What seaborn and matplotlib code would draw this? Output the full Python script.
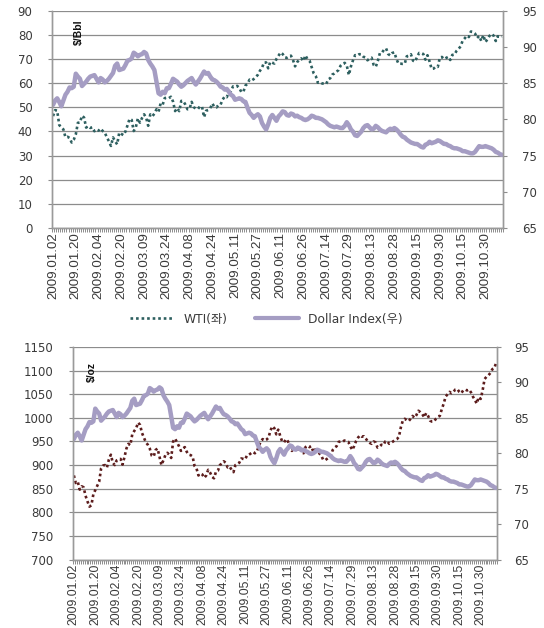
"""
WTI / gold vs. Dollar Index, 2009 daily (two stacked dual-axis panels).
"""
import numpy as np
import pandas as pd
import matplotlib
matplotlib.use('Agg')
import matplotlib.pyplot as plt
import seaborn as sns
from matplotlib.lines import Line2D

# category labels shown on the x axis (every 11th trading day)
tick_dates = ["2009.01.02", "2009.01.20", "2009.02.04", "2009.02.20", "2009.03.09",
              "2009.03.24", "2009.04.08", "2009.04.24", "2009.05.11", "2009.05.27",
              "2009.06.11", "2009.06.26", "2009.07.14", "2009.07.29", "2009.08.13",
              "2009.08.28", "2009.09.15", "2009.09.30", "2009.10.15", "2009.10.30"]
tick_step = 11

# WTI, $/Bbl (left axis, top panel)
wti = [46.34, 48.81, 48.58, 42.63, 41.70, 40.83, 37.59, 37.78, 37.28, 35.40,
       36.51, 38.74, 43.55, 43.67, 46.47, 45.73, 41.58, 42.16, 41.44, 41.68,
       40.08, 40.78, 40.32, 41.17, 40.17, 39.56, 37.55, 35.94, 33.98, 37.51,
       35.94, 34.62, 39.48, 38.94, 38.44, 39.96, 42.50, 45.22, 44.76, 40.15,
       41.65, 45.38, 43.61, 45.52, 47.07, 45.71, 42.33, 47.03, 46.25, 47.35,
       49.16, 48.14, 51.61, 51.06, 53.80, 53.98, 53.77, 54.34, 52.38, 48.41,
       49.66, 48.39, 52.64, 52.51, 51.05, 49.15, 49.38, 52.24, 50.05, 49.41,
       49.25, 50.33, 50.33, 45.88, 48.55, 48.86, 49.62, 51.55, 50.14, 49.92,
       50.97, 51.12, 53.20, 54.47, 54.16, 56.34, 56.71, 58.63, 58.50, 58.85,
       58.02, 56.34, 56.34, 59.03, 59.65, 61.45, 61.05, 61.67, 62.45, 63.45,
       65.08, 66.31, 68.58, 68.55, 66.12, 68.81, 68.44, 68.09, 70.01, 71.33,
       72.68, 72.04, 70.62, 70.47, 71.03, 71.37, 69.55, 66.93, 68.67, 69.66,
       70.25, 69.16, 71.49, 69.89, 69.31, 66.73, 64.05, 62.93, 60.14, 60.41,
       59.89, 59.69, 59.52, 61.54, 62.02, 63.56, 63.98, 64.72, 65.40, 67.21,
       68.05, 68.38, 67.23, 63.35, 66.94, 69.45, 71.58, 71.42, 71.97, 71.94,
       70.93, 70.60, 69.45, 70.16, 70.52, 67.51, 66.75, 69.19, 72.42, 72.54,
       73.89, 74.37, 72.05, 71.43, 72.49, 72.74, 69.96, 68.05, 68.05, 67.96,
       68.02, 71.10, 71.31, 71.94, 69.29, 68.86, 70.93, 72.51, 72.47, 72.04,
       69.71, 71.55, 68.97, 65.89, 66.02, 66.84, 66.71, 70.61, 70.82, 69.95,
       70.41, 70.88, 69.57, 71.69, 71.77, 73.27, 74.15, 75.18, 77.58, 78.53,
       79.61, 79.09, 81.37, 81.19, 80.50, 78.68, 79.55, 77.46, 79.87, 77.00,
       78.13, 79.60, 80.40, 79.62, 77.43, 79.43, 79.05, 79.28]

# Dollar Index (right axis, both panels)
dxy = [82.0, 82.6, 82.9, 82.4, 81.8, 82.6, 83.4, 83.8, 84.4, 84.3,
       84.5, 86.3, 85.9, 85.6, 84.6, 84.9, 85.2, 85.6, 85.9, 86.0,
       86.1, 85.6, 85.1, 85.7, 85.5, 85.1, 85.3, 85.6, 86.0, 86.4,
       87.4, 87.7, 86.8, 86.9, 87.0, 87.5, 88.1, 88.2, 88.4, 89.2,
       89.0, 88.7, 88.9, 89.0, 89.3, 89.1, 88.2, 87.7, 87.3, 86.8,
       85.2, 83.6, 83.4, 83.8, 83.6, 84.3, 84.3, 84.9, 85.6, 85.4,
       85.2, 84.8, 84.5, 84.7, 85.0, 85.3, 85.5, 85.7, 85.2, 84.8,
       85.2, 85.6, 86.1, 86.6, 86.3, 86.4, 85.9, 85.5, 85.4, 85.2,
       84.9, 84.5, 84.4, 84.1, 84.2, 83.8, 83.4, 83.2, 82.7, 82.8,
       82.9, 82.8, 82.5, 82.4, 81.6, 80.9, 80.6, 80.2, 80.5, 80.7,
       80.4, 79.5, 79.0, 78.6, 79.3, 80.2, 80.6, 80.2, 79.8, 80.4,
       80.7, 81.1, 81.0, 80.6, 80.5, 80.8, 80.7, 80.4, 80.5, 80.3,
       80.2, 80.0, 79.9, 80.0, 80.2, 80.5, 80.4, 80.2, 80.2, 80.1,
       80.0, 79.8, 79.6, 79.3, 79.1, 79.0, 78.9, 79.0, 78.9, 78.8,
       78.8, 79.1, 79.6, 79.2, 78.6, 78.3, 77.8, 77.7, 78.0, 78.3,
       78.8, 79.1, 79.2, 78.9, 78.6, 78.7, 79.1, 78.9, 78.6, 78.4,
       78.3, 78.2, 78.5, 78.7, 78.6, 78.8, 78.6, 78.3, 77.9, 77.6,
       77.5, 77.2, 77.0, 76.8, 76.7, 76.6, 76.6, 76.4, 76.2, 76.1,
       76.5, 76.6, 76.9, 76.7, 76.8, 76.9, 77.1, 77.0, 76.8, 76.6,
       76.6, 76.4, 76.3, 76.1, 76.0, 76.0, 75.9, 75.8, 75.6, 75.6,
       75.5, 75.4, 75.3, 75.3, 75.5, 75.9, 76.3, 76.2, 76.2, 76.3,
       76.2, 76.1, 76.0, 75.8, 75.5, 75.4, 75.2, 75.1]

# Gold, $/oz (left axis, bottom panel)
gold = [878, 862, 865, 848, 855, 853, 835, 823, 812, 815,
        838, 847, 856, 865, 893, 899, 900, 895, 912, 922,
        905, 900, 910, 912, 913, 901, 917, 935, 945, 942,
        965, 972, 978, 990, 985, 968, 958, 948, 943, 935,
        920, 918, 932, 935, 917, 900, 910, 921, 926, 922,
        915, 950, 956, 948, 940, 930, 935, 938, 928, 922,
        921, 918, 898, 893, 878, 882, 880, 873, 878, 890,
        884, 875, 872, 886, 888, 900, 903, 908, 905, 895,
        897, 890, 885, 900, 902, 905, 914, 913, 912, 921,
        922, 925, 928, 925, 928, 940, 950, 955, 952, 954,
        958, 973, 982, 978, 965, 975, 962, 950, 948, 955,
        950, 940, 930, 935, 934, 933, 937, 928, 925, 938,
        941, 938, 940, 928, 933, 928, 925, 921, 912, 910,
        913, 916, 920, 932, 937, 940, 949, 950, 949, 952,
        950, 949, 940, 932, 940, 951, 958, 963, 960, 961,
        956, 950, 947, 945, 950, 948, 937, 939, 943, 942,
        950, 951, 945, 947, 950, 953, 955, 960, 980, 994,
        998, 995, 993, 998, 1004, 1000, 1006, 1015, 1012, 1008,
        1001, 1010, 1004, 994, 992, 992, 998, 1002, 1004, 1018,
        1030, 1045, 1050, 1055, 1052, 1055, 1060, 1061, 1055, 1052,
        1058, 1060, 1058, 1060, 1054, 1045, 1038, 1030, 1044, 1040,
        1058, 1082, 1087, 1090, 1095, 1103, 1105, 1117]

legend_labels = ["WTI(좌)", "Dollar Index(우)"]

WTI_COLOR = "#2d5f5f"
GOLD_COLOR = "#5c1c1c"
DXY_COLOR = "#a59dc3"
GRID_COLOR = "#8c8c8c"
TEXT_COLOR = "#3a3a3a"
DOTS = (0, (1, 1.1))

df = pd.DataFrame({"day": np.arange(len(wti)), "wti": wti, "dxy": dxy, "gold": gold})

sns.set_style("white")
plt.rcParams['font.family'] = ['DejaVu Sans', 'Noto Sans CJK KR']

fig = plt.figure(figsize=(5.44, 6.28), dpi=100)


def draw_panel(rect, left_col, left_color, ylim, ystep, unit, ypad, date_size):
    ax = fig.add_axes(rect)
    ax2 = ax.twinx()
    sns.lineplot(data=df, x="day", y=left_col, ax=ax, color=left_color,
                 linewidth=1.9, linestyle=DOTS)
    sns.lineplot(data=df, x="day", y="dxy", ax=ax2, color=DXY_COLOR,
                 linewidth=3.2, solid_joinstyle='round')

    ax.set_xlim(-0.5, len(df) - 0.5)
    ax.set_ylim(*ylim)
    ax.set_yticks(np.arange(ylim[0], ylim[1] + ystep / 2, ystep))
    ax2.set_ylim(65, 95)
    ax2.set_yticks(np.arange(65, 96, 5))
    ax.set_xlabel("")
    ax.set_ylabel("")
    ax2.set_ylabel("")

    # category ticks under every trading day, labels every 11th day
    ax.set_xticks(np.arange(0, len(df), tick_step))
    ax.set_xticklabels(tick_dates, rotation=90, family='Liberation Sans',
                       fontsize=date_size, color=TEXT_COLOR)
    ax.set_xticks(np.arange(-0.5, len(df), 1), minor=True)
    ax.tick_params(axis='x', which='major', bottom=True, length=0, pad=3)
    ax.tick_params(axis='x', which='minor', bottom=True, length=3,
                   color=GRID_COLOR, width=0.7)
    ax.tick_params(axis='y', left=True, length=3, color=GRID_COLOR, labelsize=8.5,
                   labelcolor=TEXT_COLOR, pad=ypad[0])
    ax2.tick_params(axis='y', right=True, length=3, color=GRID_COLOR, labelsize=8.5,
                    labelcolor=TEXT_COLOR, pad=ypad[1])

    ax.grid(axis='y', color=GRID_COLOR, linewidth=0.9)
    ax.grid(axis='x', visible=False)
    for a in (ax, ax2):
        a.spines['top'].set_visible(False)
        for s in ('left', 'right', 'bottom'):
            a.spines[s].set_color('#9a9a9a')
            a.spines[s].set_linewidth(1.0)

    ax.text(unit[1], unit[2], unit[0], transform=ax.transAxes, rotation=90,
            fontsize=7.5, fontweight='bold', family='Liberation Sans',
            ha='center', va='center', color='#111111')
    return ax, ax2


draw_panel([0.0956, 0.637, 0.829, 0.346], "wti", WTI_COLOR, (0, 90), 10,
           ("$/Bbl", 0.06, 0.90), (11, 11), 9.6)
draw_panel([0.134, 0.109, 0.780, 0.3385], "gold", GOLD_COLOR, (700, 1150), 50,
           ("$/oz", 0.045, 0.884), (11, 9), 8.8)

handles = [Line2D([], [], color=WTI_COLOR, linewidth=1.9, linestyle=DOTS),
           Line2D([], [], color=DXY_COLOR, linewidth=3.0)]
fig.legend(handles, legend_labels, loc='center', bbox_to_anchor=(0.49, 1 - 319 / 628),
           ncol=2, frameon=False, fontsize=8.8, handlelength=3.6,
           columnspacing=2.2, labelcolor=TEXT_COLOR)

fig.savefig("out.png", dpi=100)
plt.close(fig)
